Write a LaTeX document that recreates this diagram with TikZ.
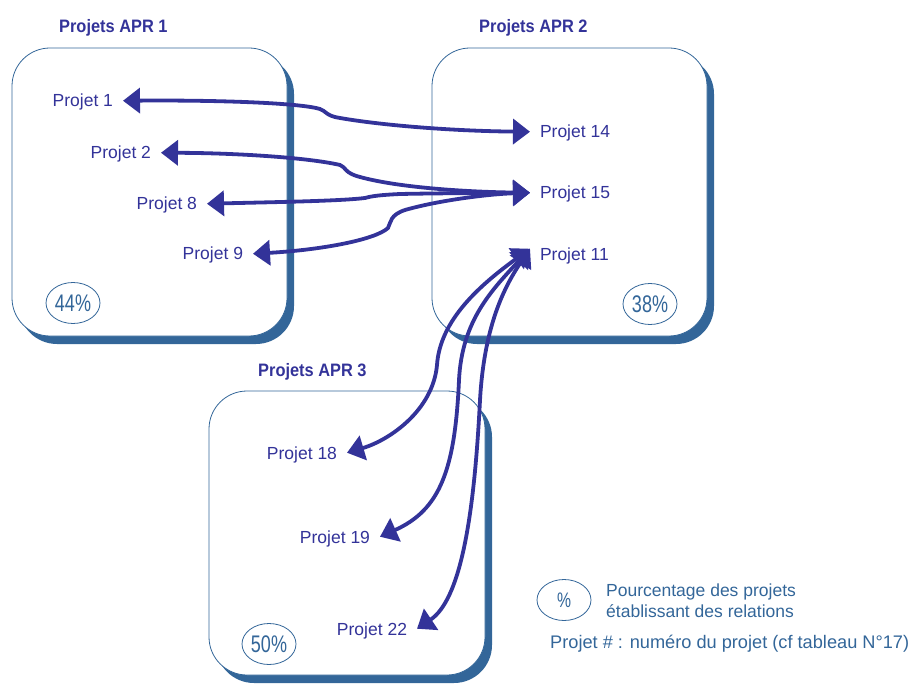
\documentclass[tikz,border=0pt]{standalone}
\usepackage{fontspec}
\setmainfont{Liberation Sans}
\newfontfamily\titlefont[FakeStretch=0.91]{Liberation Sans Bold}
\newfontfamily\pctfont[FakeStretch=0.75]{Liberation Sans}
\usetikzlibrary{arrows.meta,shapes.geometric}
\definecolor{aprnavy}{HTML}{333399}
\definecolor{aprsteel}{HTML}{336699}
\tikzset{
  groupshadow/.style={fill=aprsteel, rounded corners=38pt},
  groupbox/.style={draw=aprsteel, line width=0.8pt, fill=white, rounded corners=38pt},
  grouptitle/.style={text=aprnavy, font=\titlefont\fontsize{18}{18}\selectfont, inner sep=0pt, anchor=base west},
  lbl/.style={text=aprnavy, font=\fontsize{17.5}{18}\selectfont, text height=12.5pt, text depth=0pt, inner ysep=0pt, inner xsep=0pt, outer xsep=10pt},
  pct/.style={ellipse, draw=aprsteel, line width=0.8pt, text=aprsteel, font=\pctfont\fontsize{24}{24}\selectfont, minimum width=54pt, minimum height=41pt, inner sep=0pt},
  legendtxt/.style={text=aprsteel, font=\fontsize{17.5}{18}\selectfont, inner sep=0pt, anchor=base west},
  link/.style={draw=aprnavy, line width=3.8pt, {Triangle[length=17pt,width=25pt]}-{Triangle[length=17pt,width=25pt]}}
}
\begin{document}
\begin{tikzpicture}[x=1pt,y=-1pt]
\useasboundingbox (0,0) rectangle (912,684);

% group frames with their drop shadows
\fill[groupshadow] (19,56) rectangle (294,344);
\draw[groupbox] (12,48) rectangle (287,336);
\fill[groupshadow] (439,56) rectangle (714,344);
\draw[groupbox] (432,48) rectangle (707,336);
\fill[groupshadow] (216,399) rectangle (492,683);
\draw[groupbox] (209,391) rectangle (485,675);

% group titles
\node[grouptitle] (t1) at (59,33) {Projets APR 1};
\node[grouptitle] (t2) at (479,33) {Projets APR 2};
\node[grouptitle] (t3) at (258,376) {Projets APR 3};

% percentages
\node[pct] (c1) at (73,303) {44\%};
\node[pct] (c2) at (650,304) {38\%};
\node[pct] (c3) at (269,644) {50\%};

% project labels
\node[lbl, anchor=base east] (p1) at (123,107) {Projet 1};
\node[lbl, anchor=base east] (p2) at (161,159) {Projet 2};
\node[lbl, anchor=base east] (p8) at (207,210) {Projet 8};
\node[lbl, anchor=base east] (p9) at (253,260) {Projet 9};
\node[lbl, anchor=base west] (p14) at (530,138) {Projet 14};
\node[lbl, anchor=base west] (p15) at (530,199) {Projet 15};
\node[lbl, anchor=base west] (p11) at (530,261) {Projet 11};
\node[lbl, anchor=base east] (p18) at (347,459) {Projet 18};
\node[lbl, anchor=base east] (p19) at (380,543) {Projet 19};
\node[lbl, anchor=base east] (p22) at (417,635) {Projet 22};

% relations between projects
\draw[link] (p1.east) .. controls (220,100) and (300,103) .. (320,109)
  .. controls (326,111) and (326,116) .. (340,118)
  .. controls (380,125) and (450,131) .. (p14.west);
\draw[link] (p2.east) .. controls (240,153) and (310,158) .. (340,165)
  .. controls (346,167) and (344,173) .. (360,177)
  .. controls (400,188) and (470,192) .. (p15.west);
\draw[link] (p8.east) .. controls (280,202) and (340,201) .. (365,198)
  .. controls (372,196) and (380,195) .. (400,194)
  .. controls (450,193) and (500,193) .. (p15.west);
\draw[link] (p9.east) .. controls (320,250) and (375,240) .. (388,228)
  .. controls (391,222) and (390,215) .. (405,210)
  .. controls (440,200) and (490,194) .. (p15.west);
\draw[link] ([yshift=6pt]p11.west) .. controls (480,285) and (440,320) .. (437,365)
  .. controls (433,410) and (390,440) .. (p18.east);
\draw[link] ([yshift=6pt]p11.west) .. controls (492,290) and (462,320) .. (459,380)
  .. controls (455,470) and (440,510) .. (p19.east);
\draw[link] ([yshift=6pt]p11.west) .. controls (502,290) and (484,330) .. (480,400)
  .. controls (474,520) and (460,600) .. (p22.east);

% legend
\node[pct] (lg) at (564,600) {\fontsize{21}{21}\selectfont\%};
\node[legendtxt] (lg1) at (606,596) {Pourcentage des projets};
\node[legendtxt] (lg2) at (606,617) {établissant des relations};
\node[legendtxt, font=\fontsize{18.2}{19}\selectfont] (lg3) at (550,648) {Projet \# : numéro du projet (cf tableau N°17)};
\end{tikzpicture}
\end{document}
